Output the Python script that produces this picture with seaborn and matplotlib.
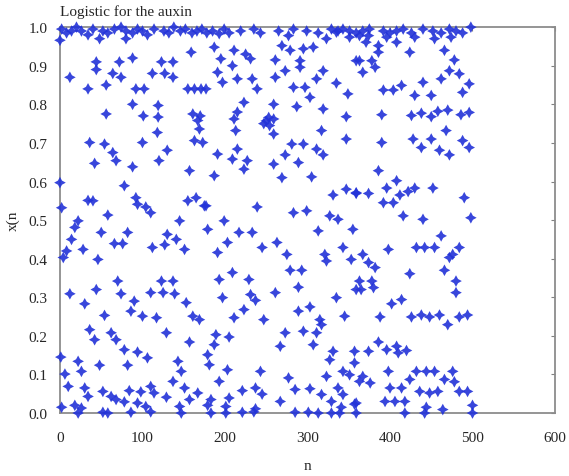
import matplotlib
matplotlib.use("Agg")
import matplotlib.pyplot as plt
import seaborn as sns
import pandas as pd

# values, (n, x(n)) pairs grouped by band
top_band = [
    (2, 0.995), (8, 0.985), (14, 0.99), (20, 1.0), (26, 0.99), (34, 0.98), (40, 0.995),
    (52, 0.99), (58, 0.985), (66, 0.995), (74, 1.0), (80, 0.99), (88, 0.985), (94, 0.995),
    (100, 0.99), (106, 0.98), (114, 0.995), (126, 0.99), (132, 0.985), (138, 1.0),
    (146, 0.99), (152, 0.995), (160, 0.985), (166, 0.99), (172, 0.995), (178, 0.985),
    (185, 0.99), (199, 0.995), (205, 0.985), (219, 0.99), (235, 0.995), (243, 0.985),
    (265, 0.99), (283, 0.995), (299, 0.99), (313, 0.985), (329, 0.995), (337, 0.99),
    (343, 0.995), (351, 0.99), (359, 0.985), (367, 0.99), (375, 0.995), (392, 0.99),
    (400, 0.985), (408, 0.99), (416, 0.995), (426, 0.985), (440, 0.995), (452, 0.99),
    (462, 0.985), (472, 0.995), (480, 0.99), (488, 0.985), (498, 1.0),
]

upper_band = [
    (0, 0.966), (48, 0.97), (80, 0.97), (159, 0.935), (44, 0.91), (72, 0.91), (88, 0.92),
    (123, 0.91), (137, 0.91), (44, 0.89), (12, 0.87), (64, 0.88), (74, 0.87), (112, 0.88),
    (127, 0.88), (137, 0.87), (34, 0.84), (56, 0.85), (92, 0.84), (102, 0.84), (155, 0.84),
    (163, 0.84), (171, 0.84), (88, 0.80), (119, 0.797), (56, 0.775), (101, 0.77),
    (119, 0.767), (161, 0.775), (170, 0.77),
    (193, 0.983), (277, 0.978), (335, 0.987), (351, 0.974), (323, 0.97), (269, 0.952),
    (187, 0.948), (295, 0.944), (307, 0.948), (211, 0.94), (279, 0.94), (225, 0.93),
    (231, 0.918), (195, 0.918), (261, 0.915), (291, 0.913), (209, 0.90), (291, 0.896),
    (359, 0.913), (191, 0.883), (273, 0.887), (319, 0.887), (261, 0.87), (215, 0.866),
    (233, 0.866), (311, 0.866), (197, 0.857), (335, 0.855), (239, 0.84), (283, 0.844),
    (297, 0.844), (349, 0.827), (303, 0.818), (177, 0.84), (223, 0.805), (259, 0.80),
    (287, 0.794), (319, 0.788), (215, 0.78), (253, 0.766), (259, 0.762), (347, 0.768),
    (211, 0.762),
    (363, 0.978), (374, 0.978), (396, 0.974), (430, 0.974), (454, 0.97), (474, 0.974),
    (371, 0.961), (408, 0.961), (386, 0.952), (386, 0.935), (424, 0.935), (466, 0.94),
    (363, 0.913), (378, 0.913), (478, 0.915), (382, 0.896), (367, 0.883), (472, 0.887),
    (484, 0.879), (462, 0.866), (440, 0.857), (414, 0.849), (496, 0.853), (392, 0.837),
    (404, 0.837), (488, 0.831), (430, 0.823), (450, 0.823), (390, 0.773), (426, 0.771),
    (438, 0.777), (450, 0.768), (458, 0.782), (470, 0.785), (486, 0.773), (496, 0.779),
]

middle_band = [
    (167, 0.758), (169, 0.736), (118, 0.727), (36, 0.701), (54, 0.697), (100, 0.701),
    (163, 0.706), (173, 0.701), (64, 0.675), (130, 0.681), (68, 0.654), (42, 0.647),
    (120, 0.654), (88, 0.638), (157, 0.628), (0, 0.597), (78, 0.589), (34, 0.551),
    (40, 0.55), (92, 0.558), (94, 0.541), (104, 0.534), (155, 0.55), (165, 0.558),
    (175, 0.537), (2, 0.532), (58, 0.513), (110, 0.519),
    (247, 0.75), (250, 0.757), (254, 0.745), (213, 0.732), (259, 0.723), (317, 0.732),
    (347, 0.71), (281, 0.697), (295, 0.697), (311, 0.684), (215, 0.684), (191, 0.671),
    (273, 0.669), (319, 0.669), (209, 0.658), (227, 0.654), (259, 0.645), (289, 0.649),
    (223, 0.632), (187, 0.615), (269, 0.61), (305, 0.612), (347, 0.58), (359, 0.571),
    (331, 0.565), (177, 0.537), (239, 0.534), (283, 0.519), (299, 0.524), (327, 0.511),
    (337, 0.502),
    (468, 0.732), (390, 0.701), (428, 0.71), (450, 0.71), (438, 0.688), (460, 0.681),
    (472, 0.669), (488, 0.706), (496, 0.688), (386, 0.628), (408, 0.602), (359, 0.569),
    (374, 0.569), (396, 0.583), (412, 0.565), (422, 0.574), (430, 0.583), (452, 0.583),
    (392, 0.545), (404, 0.545), (490, 0.558), (416, 0.511), (440, 0.502), (498, 0.506),
]

lower_band = [
    (22, 0.498), (145, 0.498), (199, 0.498),
    (18, 0.481), (179, 0.476), (50, 0.468), (82, 0.468), (130, 0.463), (14, 0.45),
    (66, 0.439), (76, 0.439), (141, 0.45), (112, 0.429), (127, 0.436), (151, 0.424),
    (28, 0.424), (8, 0.42), (4, 0.403), (46, 0.398), (70, 0.342), (123, 0.342),
    (137, 0.342), (44, 0.32), (12, 0.309), (74, 0.309), (110, 0.312), (125, 0.312),
    (139, 0.309), (30, 0.283), (90, 0.29), (153, 0.286), (54, 0.253), (86, 0.264),
    (100, 0.251), (117, 0.247), (161, 0.251), (169, 0.242),
    (217, 0.468), (233, 0.468), (313, 0.472), (355, 0.476), (203, 0.442), (245, 0.429),
    (263, 0.442), (343, 0.429), (191, 0.416), (275, 0.411), (321, 0.411), (323, 0.394),
    (353, 0.398), (279, 0.37), (293, 0.37), (209, 0.364), (193, 0.346), (229, 0.346),
    (289, 0.326), (261, 0.312), (231, 0.307), (237, 0.292), (197, 0.299), (335, 0.299),
    (359, 0.32), (223, 0.268), (289, 0.264), (303, 0.275), (211, 0.247), (247, 0.242),
    (315, 0.242), (345, 0.251),
    (462, 0.459), (398, 0.424), (432, 0.429), (442, 0.429), (454, 0.429), (484, 0.429),
    (476, 0.411), (472, 0.403), (367, 0.411), (374, 0.39), (382, 0.377), (424, 0.361),
    (466, 0.37), (363, 0.342), (378, 0.342), (380, 0.325), (365, 0.32), (480, 0.342),
    (480, 0.312), (414, 0.294), (402, 0.283), (388, 0.249), (426, 0.249), (438, 0.254),
    (448, 0.249), (460, 0.254), (484, 0.249), (494, 0.254),
]

bottom_band = [
    (36, 0.216), (62, 0.208), (129, 0.208), (42, 0.19), (68, 0.19), (157, 0.184),
    (78, 0.164), (94, 0.158), (106, 0.143), (1, 0.145), (22, 0.134), (143, 0.134),
    (48, 0.124), (82, 0.124), (6, 0.101), (26, 0.108), (147, 0.108), (137, 0.082),
    (10, 0.069), (30, 0.065), (110, 0.069), (34, 0.043), (52, 0.056), (62, 0.043),
    (84, 0.058), (98, 0.055), (114, 0.052), (151, 0.065), (167, 0.052), (68, 0.035),
    (78, 0.029), (94, 0.026), (129, 0.041), (157, 0.035), (2, 0.015), (18, 0.02),
    (26, 0.013), (104, 0.017), (145, 0.017), (179, 0.02), (22, 0.0), (52, 0.002),
    (58, 0.0), (86, 0.002), (110, 0.003), (147, 0.0),
    (189, 0.203), (205, 0.197), (273, 0.208), (295, 0.212), (317, 0.229), (311, 0.208),
    (187, 0.177), (267, 0.173), (307, 0.177), (331, 0.16), (327, 0.138), (357, 0.16),
    (179, 0.151), (181, 0.125), (203, 0.112), (243, 0.108), (277, 0.091), (323, 0.095),
    (343, 0.108), (351, 0.099), (193, 0.082), (237, 0.065), (221, 0.058), (245, 0.049),
    (285, 0.061), (303, 0.063), (317, 0.048), (337, 0.065), (343, 0.048), (183, 0.035),
    (205, 0.039), (201, 0.017), (237, 0.011), (267, 0.03), (329, 0.03), (341, 0.015),
    (357, 0.023), (183, 0.0), (201, 0.0), (221, 0.002), (235, 0.003), (285, 0.002),
    (301, 0.002), (313, 0.0), (329, 0.0), (339, 0.0),
    (470, 0.229), (386, 0.184), (374, 0.16), (396, 0.164), (408, 0.173), (410, 0.156),
    (420, 0.162), (357, 0.13), (367, 0.095), (363, 0.082), (376, 0.078), (398, 0.108),
    (432, 0.108), (444, 0.108), (454, 0.108), (476, 0.108), (424, 0.087), (466, 0.087),
    (478, 0.081), (400, 0.065), (414, 0.065), (436, 0.056), (448, 0.052), (458, 0.056),
    (484, 0.056), (494, 0.056), (394, 0.03), (406, 0.03), (418, 0.03), (359, 0.026),
    (444, 0.015), (464, 0.009), (500, 0.02), (359, 0.0), (418, 0.0), (442, 0.0), (500, 0.0),
]

x_ticks = [0, 100, 200, 300, 400, 500, 600]
y_ticks = [0.0, 0.1, 0.2, 0.3, 0.4, 0.5, 0.6, 0.7, 0.8, 0.9, 1.0]

df = pd.DataFrame(top_band + upper_band + middle_band + lower_band + bottom_band,
                  columns=["n", "xn"])

sns.set_style("white")
plt.rcParams['font.family'] = ['Liberation Serif', 'DejaVu Serif']

fig = plt.figure(figsize=(5.69, 4.77), dpi=100)
ax = fig.add_axes([0.1054, 0.132, 0.870, 0.809])

sns.scatterplot(data=df, x="n", y="xn", ax=ax, marker=(4, 1, 0), s=70,
                color="#2232d8", edgecolor="none", alpha=0.9, clip_on=False, zorder=3)

ax.set_xlim(0, 600)
ax.set_ylim(0, 1.0)
ax.set_xticks(x_ticks)
ax.set_yticks(y_ticks)
ax.set_yticklabels([f"{v:.1f}" for v in y_ticks])
ax.tick_params(direction="in", length=3, color="#808080", labelsize=11,
               top=True, right=True)
ax.tick_params(axis="y", pad=9)
ax.tick_params(axis="x", pad=13)
for sp in ax.spines.values():
    sp.set_color("#8c8c8c")
    sp.set_linewidth(1.3)

ax.set_title("Logistic for the auxin", loc="left", fontsize=11, pad=9)
ax.set_xlabel("n", fontsize=11, labelpad=11)
ax.set_ylabel("x(n", fontsize=11, labelpad=6)

fig.savefig("out.png", dpi=100)
